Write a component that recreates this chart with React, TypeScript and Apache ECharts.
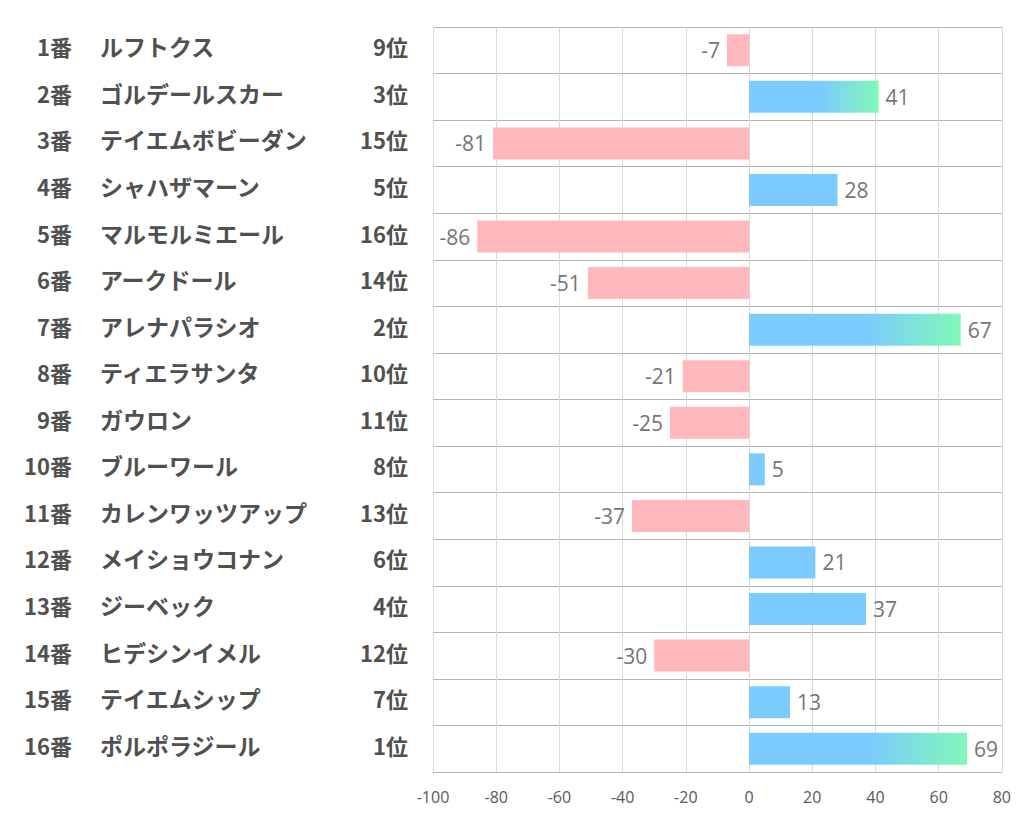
import React, { useEffect, useRef } from "react";
import * as echarts from "echarts";

const numbers = ["1番","2番","3番","4番","5番","6番","7番","8番","9番","10番","11番","12番","13番","14番","15番","16番"];
const names = ["ルフトクス","ゴルデールスカー","テイエムボビーダン","シャハザマーン","マルモルミエール","アークドール","アレナパラシオ","ティエラサンタ","ガウロン","ブルーワール","カレンワッツアップ","メイショウコナン","ジーベック","ヒデシンイメル","テイエムシップ","ポルポラジール"];
const ranks = ["9位","3位","15位","5位","16位","14位","2位","10位","11位","8位","13位","6位","4位","12位","7位","1位"];
const values = [-7, 41, -81, 28, -86, -51, 67, -21, -25, 5, -37, 21, 37, -30, 13, 69];
const xTicks = { min: -100, max: 80, interval: 20 };

const PINK = "#FFB9BC";
const BLUE = "#7CCBFF";
const GREEN = "#80F8B8";
const LABEL_FONT = "Noto Sans CJK JP, sans-serif";

export default function App() {
  const ref = useRef<HTMLDivElement>(null);
  useEffect(() => {
    if (!ref.current) return;
    const chart = echarts.init(ref.current, null, { renderer: "svg" });
    const cats = numbers.map((_, i) => String(i));
    const data = values.map((v, i) => {
      const r = parseInt(ranks[i], 10);
      let color: any = v < 0 ? PINK : BLUE;
      if (v > 0 && r <= 3) {
        color = new echarts.graphic.LinearGradient(0, 0, 1, 0, [
          { offset: 0, color: BLUE },
          { offset: 0.55, color: BLUE },
          { offset: 1, color: GREEN },
        ]);
      }
      return {
        value: v,
        itemStyle: { color },
        label: { position: v < 0 ? "left" : "right" },
      };
    });
    const catAxis = (
      list: string[],
      margin: number,
      align: string,
      withSplit: boolean,
      fontSize: number
    ) => ({
      type: "category",
      inverse: true,
      position: "left",
      data: cats,
      axisLine: { show: false },
      axisTick: { show: false },
      splitLine: { show: withSplit, lineStyle: { color: "#b4b4b4", width: 1 } },
      axisLabel: {
        margin,
        align,
        formatter: (val: string) => `{t|${list[parseInt(val, 10)]}}`,
        rich: {
          t: {
            fontSize,
            fontWeight: "bold",
            color: "#505050",
            fontFamily: LABEL_FONT,
            padding: [0, 0, 8, 0],
          },
        },
      },
    });
    chart.setOption({
      animation: false,
      grid: { left: 425, right: 9, top: 19, bottom: 54, containLabel: false },
      xAxis: {
        type: "value",
        min: xTicks.min,
        max: xTicks.max,
        interval: xTicks.interval,
        axisLine: { show: false },
        axisTick: { show: false },
        splitLine: { show: true, lineStyle: { color: "#d9d9d9", width: 1 } },
        axisLabel: {
          color: "#595959",
          fontSize: 16,
          margin: 17,
          fontFamily: "Open Sans, Noto Sans, sans-serif",
        },
      },
      yAxis: [
        catAxis(ranks, 25, "right", true, 22),
        catAxis(names, 333, "left", false, 23),
        catAxis(numbers, 361, "right", false, 22),
      ],
      series: [
        {
          type: "bar",
          data,
          barWidth: 32,
          yAxisIndex: 0,
          label: {
            show: true,
            color: "#757575",
            fontSize: 21,
            distance: 7,
            fontFamily: "Open Sans, Noto Sans, sans-serif",
          },
        },
      ],
    });
    return () => chart.dispose();
  }, []);
  return <div ref={ref} style={{ width: 1006, height: 818 }} />;
}
